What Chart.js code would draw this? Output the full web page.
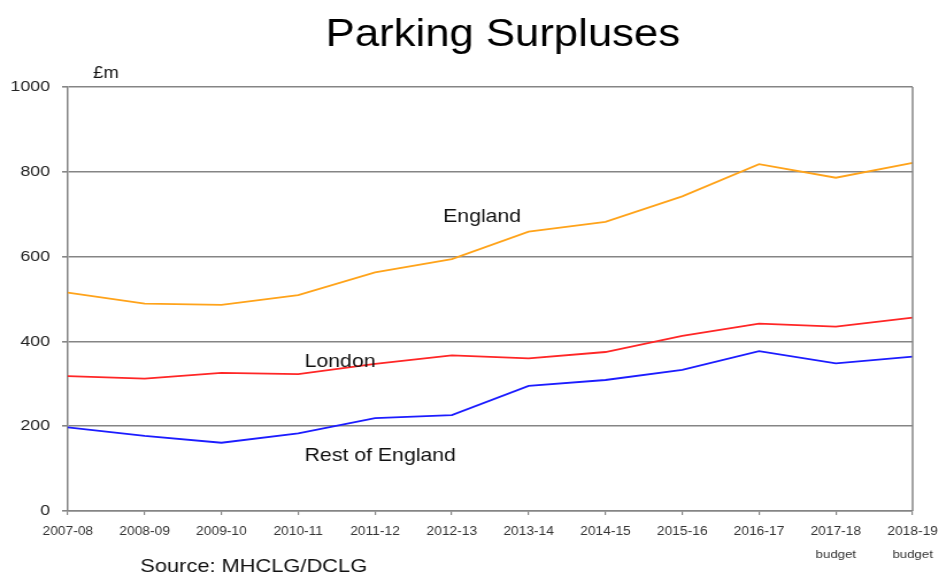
<!DOCTYPE html>
<html>
<head>
<meta charset="utf-8">
<script src="https://cdn.jsdelivr.net/npm/chart.js@4"></script>
<style>
html,body{margin:0;padding:0;background:#fff;overflow:hidden;}
#wrap{width:817px;height:573px;transform:scaleX(1.1494);transform-origin:0 0;}
canvas{display:block;}
</style>
</head>
<body>
<div id="wrap"><canvas id="c" width="817" height="573"></canvas></div>
<script>
const categories = ['2007-08','2008-09','2009-10','2010-11','2011-12','2012-13','2013-14','2014-15','2015-16','2016-17','2017-18','2018-19'];
const budgetFlags = [false,false,false,false,false,false,false,false,false,false,true,true];
const england = [515, 489, 486, 509, 563, 594, 659, 682, 742, 818, 786, 821];
const london = [318, 312, 326, 323, 347, 367, 360, 375, 413, 442, 435, 456];
const restOfEngland = [197, 177, 161, 183, 219, 226, 295, 309, 333, 377, 348, 364];
const yTicks = [0, 200, 400, 600, 800, 1000];

const FONT = '"Liberation Sans", Arial, sans-serif';
const GRID = '#858585';

const overlay = {
  id: 'overlay',
  afterDraw(chart) {
    const ctx = chart.ctx;
    const a = chart.chartArea;
    const xs = chart.scales.x;
    ctx.save();
    // right border
    ctx.strokeStyle = GRID;
    ctx.lineWidth = 1.5;
    ctx.beginPath();
    ctx.moveTo(a.right, a.top);
    ctx.lineTo(a.right, a.bottom);
    ctx.stroke();
    // title
    ctx.fillStyle = '#000';
    ctx.textAlign = 'center';
    ctx.textBaseline = 'alphabetic';
    ctx.font = '38px ' + FONT;
    ctx.fillText('Parking Surpluses', 437.5, 46);
    // unit
    ctx.font = '16px ' + FONT;
    ctx.textAlign = 'left';
    ctx.fillStyle = '#111';
    ctx.fillText('£m', 81, 78);
    // series labels
    ctx.font = '18.5px ' + FONT;
    ctx.fillText('England', 385.5, 222);
    ctx.fillText('London', 265, 366.5);
    ctx.fillText('Rest of England', 265, 461);
    // source
    ctx.font = '19px ' + FONT;
    ctx.fillText('Source: MHCLG/DCLG', 122, 571.5);
    // budget notes
    ctx.font = '11.5px ' + FONT;
    ctx.textAlign = 'center';
    ctx.textBaseline = 'middle';
    ctx.fillStyle = '#333';
    categories.forEach((c, i) => {
      if (budgetFlags[i]) ctx.fillText('budget', xs.getPixelForValue(i), 555);
    });
    ctx.restore();
  }
};

new Chart(document.getElementById('c'), {
  type: 'line',
  data: {
    labels: categories,
    datasets: [
      { label: 'England', data: england, borderColor: '#FFA31A', borderWidth: 1.8 },
      { label: 'London', data: london, borderColor: '#FF2626', borderWidth: 1.8 },
      { label: 'Rest of England', data: restOfEngland, borderColor: '#1C1CFF', borderWidth: 1.8 }
    ]
  },
  options: {
    responsive: false,
    animation: false,
    devicePixelRatio: 1,
    layout: { padding: { left: 0, right: 23, top: 87, bottom: 0 } },
    elements: { point: { radius: 0 }, line: { tension: 0 } },
    plugins: { legend: { display: false }, title: { display: false }, tooltip: { enabled: false } },
    scales: {
      x: {
        type: 'category',
        offset: false,
        grid: { display: true, drawOnChartArea: false, color: GRID, lineWidth: 1.2, tickLength: 4 },
        border: { display: true, color: GRID, width: 1.5 },
        ticks: { font: { family: FONT, size: 12 }, color: '#333', padding: 9, maxRotation: 0, autoSkip: false },
        afterFit(s) { s.height = 62; s.paddingLeft = 0; s.paddingRight = 0; }
      },
      y: {
        min: 0, max: 1000,
        afterBuildTicks(s) { s.ticks = yTicks.map(v => ({ value: v })); },
        grid: { color: GRID, lineWidth: 1.6, tickLength: 5 },
        border: { display: true, color: GRID, width: 1.5 },
        ticks: { font: { family: FONT, size: 15.5 }, color: '#222', padding: 10.5, callback: v => String(v) },
        afterFit(s) { s.width = 59; s.paddingTop = 0; s.paddingBottom = 0; }
      }
    }
  },
  plugins: [overlay]
});
</script>
</body>
</html>
